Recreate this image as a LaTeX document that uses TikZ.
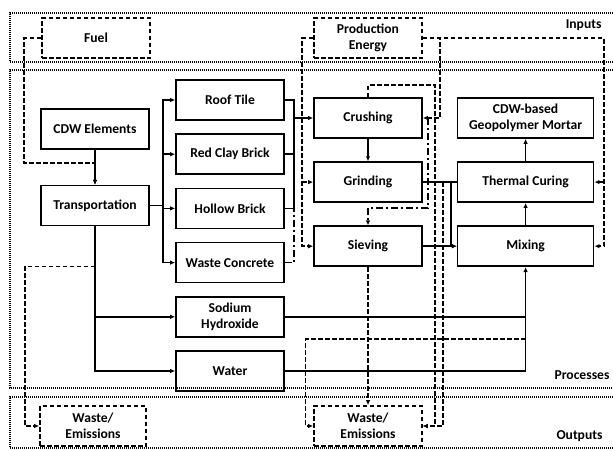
\documentclass[tikz,border=0pt]{standalone}
\usepackage{fontspec}
\setmainfont{Carlito}
\usetikzlibrary{positioning,arrows.meta}

\begin{document}
\begin{tikzpicture}[x=1pt,y=1pt,
    >={Latex[length=5pt,width=4.5pt]},
    font=\bfseries\fontsize{13.6}{16.5}\selectfont,
    box/.style={draw,rectangle,line width=1.6pt,minimum width=108pt,minimum height=40pt,align=center,inner sep=1pt},
    dbox/.style={box,dash pattern=on 4.5pt off 2.5pt},
    ln/.style={line width=1.5pt},
    dln/.style={line width=1.5pt,dash pattern=on 4.5pt off 2.5pt},
    ddln/.style={line width=1.5pt,dash pattern=on 7pt off 3pt on 2pt off 3pt},
    band/.style={line width=1.1pt,dash pattern=on 1pt off 1pt},
    tag/.style={anchor=east}]
    \useasboundingbox (0,0) rectangle (613,-450);

    % bands
    \draw[band] (613,-13) -- (10,-13) -- (10,-62) -- (613,-62);
    \draw[band] (613,-70) -- (10,-70) -- (10,-388) -- (613,-388);
    \draw[band] (613,-397) -- (10,-397) -- (10,-448) -- (613,-448);
    \node[tag] (inlab) at (605,-25) {Inputs};
    \node[tag] (proclab) at (613,-375) {Processes};
    \node[tag] (outlab) at (606,-436) {Outputs};

    \node[dbox] (fuel) at (96,-38) {Fuel};
    \node[dbox] (pe) at (368,-38) {Production\\Energy};

    \node[box] (cdw) at (95,-129) {CDW Elements};
    \node[box,below=35pt of cdw] (transp) {Transportation};

    \node[box] (roof) at (230,-100) {Roof Tile};
    \node[box,below=12.6pt of roof] (redclay) {Red Clay Brick};
    \node[box,below=12.6pt of redclay] (hollow) {Hollow Brick};
    \node[box,below=12.6pt of hollow] (waste) {Waste Concrete};
    \node[box,below=12.6pt of waste] (sodium) {Sodium\\Hydroxide};
    \node[box,below=12.6pt of sodium] (water) {Water};

    \node[box] (crushing) at (368,-118) {Crushing};
    \node[box,below=22.5pt of crushing] (grinding) {Grinding};
    \node[box,below=22.5pt of grinding] (sieving) {Sieving};

    \node[box,minimum width=136pt,right=34pt of crushing] (mortar) {CDW-based\\Geopolymer Mortar};
    \node[box,minimum width=136pt,right=34pt of grinding] (thermal) {Thermal Curing};
    \node[box,minimum width=136pt,right=34pt of sieving] (mixing) {Mixing};

    \node[dbox,minimum width=106pt] (wasteL) at (93,-426) {Waste/\\Emissions};
    \node[dbox] (wasteM) at (368,-426) {Waste/\\Emissions};

    % solid flows
    \draw[ln,->] (cdw) -- (transp);
    \draw[ln,->] (transp.east) -- ++(13,0) coordinate (tbus) |- (roof.west);
    \draw[ln,->] (tbus) |- (redclay.west);
    \draw[ln,->] (tbus) |- (hollow.west);
    \draw[ln,->] (tbus) |- (waste.west);
    \draw[ln,->] (transp.south) |- (sodium.west);
    \draw[ln,->] (transp.south) |- (water.west);

    \draw[ln] (roof.east) -- ++(9,0) coordinate (rbus) |- (hollow.east);
    \draw[ln] (redclay.east) -- (redclay.east -| rbus);
    \draw[ln,->] (crushing.west -| rbus) -- (crushing.west);
    \draw[ddln] (waste.east) -| (hollow.east -| rbus);

    \draw[ln,->] (crushing) -- (grinding);
    \draw[ln] (grinding.east) -- (thermal.west);
    \draw[ln,->] ([xshift=28pt]grinding.east) |- (mixing.west);
    \draw[ln,->] (sieving) -- (mixing);
    \draw[ln,->] (mixing) -- (thermal);
    \draw[ln,->] (thermal) -- (mortar);
    \draw[ln] (sodium.east) -- (sodium.east -| mixing.south);
    \draw[ln,->] (water.east) -| (mixing.south);
    \draw[ddln,->] ([xshift=5pt]crushing.east) -- ++(0,-90) -| (sieving.north);

    % energy and emissions
    \draw[dln,->] (fuel.west) -- ++(-17,0) |- ([yshift=-13pt]cdw.south) -- (transp.north);
    \draw[dln,->] ([yshift=-40pt]transp.south) -- ++(-70,0) |- (wasteL.west);

    \draw[dln,->] (pe.west) -- ++(-11,0) coordinate (pel) |- (sieving.west);
    \draw[dln,->] (grinding.west -| pel) -- (grinding.west);
    \draw[dln,->] (pe.east) -- ++(17,0) |- (crushing.east);
    \draw[dln,->] (pe.east) -- ++(181,0) coordinate (per) |- (mixing.east);
    \draw[dln,->] (thermal.east -| per) -- (thermal.east);

    \draw[dln,->] (crushing.north) -- ++(0,12) -- ++(67,0) |- (wasteM.east);
    \draw[dln,->] ([xshift=20pt]grinding.east) |- (wasteM.east);
    \draw[dln,->] (sieving) -- (wasteM);
    \draw[dln,->] ([yshift=-72pt]mixing.south) -- ++(-220,0) |- (wasteM.west);

\end{tikzpicture}
\end{document}
